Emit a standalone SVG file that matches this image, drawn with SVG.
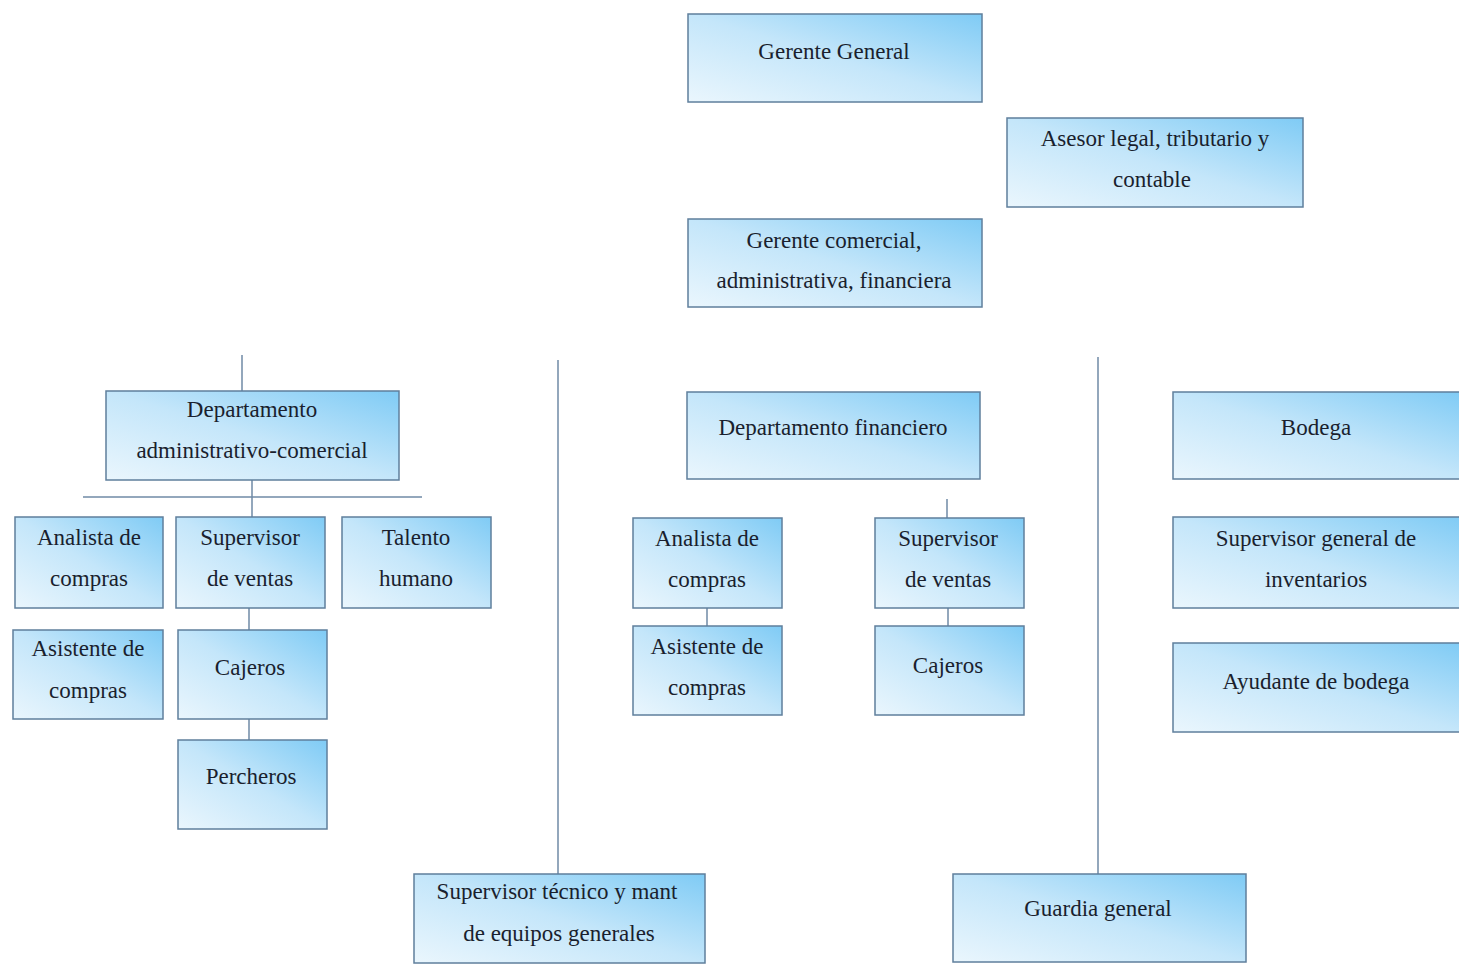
<svg xmlns="http://www.w3.org/2000/svg" width="1459" height="964" viewBox="0 0 1459 964">
<defs>
<linearGradient id="g" x1="0" y1="1" x2="1" y2="0">
<stop offset="0" stop-color="#eaf6fd"/>
<stop offset="0.5" stop-color="#c4e6fa"/>
<stop offset="1" stop-color="#7fcbf5"/>
</linearGradient>
</defs>
<style>
.b{fill:url(#g);stroke:#5f7f9c;stroke-width:1.5}
.t{font-family:"Liberation Serif","Times New Roman",serif;font-size:23px;fill:#1a1f2e;text-anchor:middle}
.c{stroke:#6f8aa6;stroke-width:1.5;fill:none}
</style>
<rect width="1459" height="964" fill="#ffffff"/>
<g id="connectors">
<line class="c" x1="242" y1="355" x2="242" y2="391"/>
<line class="c" x1="252" y1="480" x2="252" y2="517"/>
<line class="c" x1="83" y1="497" x2="422" y2="497"/>
<line class="c" x1="249" y1="608" x2="249" y2="630"/>
<line class="c" x1="249" y1="719" x2="249" y2="740"/>
<line class="c" x1="558" y1="360" x2="558" y2="874"/>
<line class="c" x1="1098" y1="357" x2="1098" y2="874"/>
<line class="c" x1="947" y1="499" x2="947" y2="518"/>
<line class="c" x1="707" y1="608" x2="707" y2="626"/>
<line class="c" x1="948" y1="608" x2="948" y2="626"/>
</g>
<g id="n1"><rect class="b" x="688" y="14" width="294" height="88"/><text class="t" x="834" y="59">Gerente General</text></g>
<g id="n2"><rect class="b" x="1007" y="118" width="296" height="89"/><text class="t" x="1155" y="146">Asesor legal, tributario y</text><text class="t" x="1152" y="187">contable</text></g>
<g id="n3"><rect class="b" x="688" y="219" width="294" height="88"/><text class="t" x="834" y="248">Gerente comercial,</text><text class="t" x="834" y="288">administrativa, financiera</text></g>
<g id="n4"><rect class="b" x="106" y="391" width="293" height="89"/><text class="t" x="252" y="417">Departamento</text><text class="t" x="252" y="458">administrativo-comercial</text></g>
<g id="n5"><rect class="b" x="15" y="517" width="148" height="91"/><text class="t" x="89" y="545">Analista de</text><text class="t" x="89" y="586">compras</text></g>
<g id="n6"><rect class="b" x="176" y="517" width="149" height="91"/><text class="t" x="250" y="545">Supervisor</text><text class="t" x="250" y="586">de ventas</text></g>
<g id="n7"><rect class="b" x="342" y="517" width="149" height="91"/><text class="t" x="416" y="545">Talento</text><text class="t" x="416" y="586">humano</text></g>
<g id="n8"><rect class="b" x="13" y="630" width="150" height="89"/><text class="t" x="88" y="656">Asistente de</text><text class="t" x="88" y="698">compras</text></g>
<g id="n9"><rect class="b" x="178" y="630" width="149" height="89"/><text class="t" x="250" y="675">Cajeros</text></g>
<g id="n10"><rect class="b" x="178" y="740" width="149" height="89"/><text class="t" x="251" y="784">Percheros</text></g>
<g id="n11"><rect class="b" x="687" y="392" width="293" height="87"/><text class="t" x="833" y="435">Departamento financiero</text></g>
<g id="n12"><rect class="b" x="633" y="518" width="149" height="90"/><text class="t" x="707" y="546">Analista de</text><text class="t" x="707" y="587">compras</text></g>
<g id="n13"><rect class="b" x="875" y="518" width="149" height="90"/><text class="t" x="948" y="546">Supervisor</text><text class="t" x="948" y="587">de ventas</text></g>
<g id="n14"><rect class="b" x="633" y="626" width="149" height="89"/><text class="t" x="707" y="654">Asistente de</text><text class="t" x="707" y="695">compras</text></g>
<g id="n15"><rect class="b" x="875" y="626" width="149" height="89"/><text class="t" x="948" y="673">Cajeros</text></g>
<g id="n16"><rect class="b" x="1173" y="392" width="290" height="87"/><text class="t" x="1316" y="435">Bodega</text></g>
<g id="n17"><rect class="b" x="1173" y="517" width="290" height="91"/><text class="t" x="1316" y="546">Supervisor general de</text><text class="t" x="1316" y="587">inventarios</text></g>
<g id="n18"><rect class="b" x="1173" y="643" width="290" height="89"/><text class="t" x="1316" y="689">Ayudante de bodega</text></g>
<g id="n19"><rect class="b" x="414" y="874" width="291" height="89"/><text class="t" x="557" y="899">Supervisor técnico y mant</text><text class="t" x="559" y="941">de equipos generales</text></g>
<g id="n20"><rect class="b" x="953" y="874" width="293" height="88"/><text class="t" x="1098" y="916">Guardia general</text></g>
</svg>
